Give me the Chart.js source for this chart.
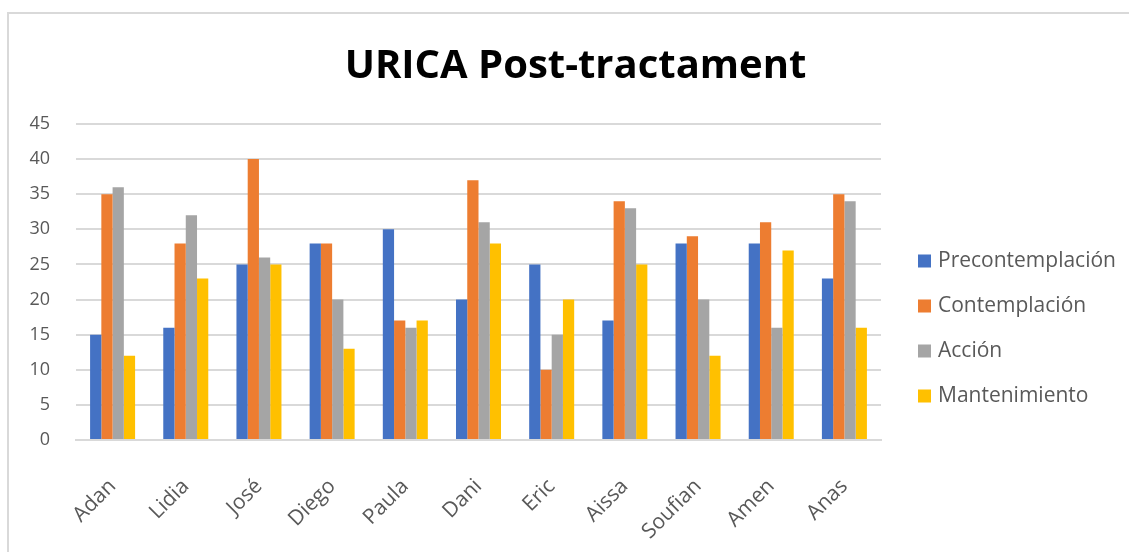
<!DOCTYPE html>
<html>
<head>
<meta charset="utf-8">
<script src="https://cdn.jsdelivr.net/npm/chart.js@4.4.0/dist/chart.umd.min.js"></script>
<style>
    html, body { margin: 0; padding: 0; background: #fff; }
    #wrap { position: relative; width: 1129px; height: 552px; }
    #frame { position: absolute; left: 7px; top: 12px; right: 0; bottom: 0; border-top: 2px solid #d9d9d9; border-left: 2px solid #d9d9d9; }
    #chart { position: absolute; left: 0; top: 0; }
</style>
</head>
<body>
<div id="wrap">
    <div id="frame"></div>
    <canvas id="chart" width="1129" height="552"></canvas>
</div>
<script>
// datos
const categories = ['Adan', 'Lidia', 'José', 'Diego', 'Paula', 'Dani', 'Eric', 'Aissa', 'Soufian', 'Amen', 'Anas'];
const precontemplacion = [15, 16, 25, 28, 30, 20, 25, 17, 28, 28, 23];
const contemplacion = [35, 28, 40, 28, 17, 37, 10, 34, 29, 31, 35];
const accion = [36, 32, 26, 20, 16, 31, 15, 33, 20, 16, 34];
const mantenimiento = [12, 23, 25, 13, 17, 28, 20, 25, 12, 27, 16];
const yTicks = [0, 5, 10, 15, 20, 25, 30, 35, 40, 45];

const FONT = "'Open Sans', 'Noto Sans', sans-serif";
const grey = '#595959';

// leyenda a la derecha, como en Excel
const legendPlugin = {
    id: 'sideLegend',
    afterDraw(chart) {
        const { ctx } = chart;
        const x = chart.width - 211;
        const y0 = 261;
        const step = 45;
        ctx.save();
        ctx.font = '21px ' + FONT;
        ctx.textBaseline = 'middle';
        ctx.textAlign = 'left';
        chart.data.datasets.forEach((ds, i) => {
            const y = y0 + i * step;
            ctx.fillStyle = ds.backgroundColor;
            ctx.fillRect(x, y - 6.5, 13, 13);
            ctx.fillStyle = grey;
            ctx.fillText(ds.label, x + 20, y);
        });
        ctx.restore();
    }
};

const ctx = document.getElementById('chart').getContext('2d');
new Chart(ctx, {
    type: 'bar',
    data: {
        labels: categories,
        datasets: [
            { label: 'Precontemplación', data: precontemplacion, backgroundColor: '#4472c4' },
            { label: 'Contemplación', data: contemplacion, backgroundColor: '#ed7d31' },
            { label: 'Acción', data: accion, backgroundColor: '#a5a5a5' },
            { label: 'Mantenimiento', data: mantenimiento, backgroundColor: '#ffc000' }
        ]
    },
    options: {
        responsive: false,
        animation: false,
        layout: { padding: { left: 22, right: 0, top: 0, bottom: 0 } },
        datasets: { bar: { barPercentage: 1, categoryPercentage: 0.615 } },
        plugins: {
            title: {
                display: true,
                text: 'URICA Post-tractament',
                color: '#000',
                font: { family: FONT, size: 40, weight: 'bold' },
                padding: { top: 43, bottom: 33 }
            },
            legend: { display: false },
            tooltip: { enabled: false }
        },
        scales: {
            x: {
                grid: { display: false },
                border: { color: '#d9d9d9', width: 2 },
                afterFit: axis => { axis.height = 112; },
                ticks: {
                    color: grey,
                    font: { family: FONT, size: 21 },
                    maxRotation: 45,
                    minRotation: 45,
                    padding: 26
                }
            },
            y: {
                min: 0,
                max: 45,
                afterBuildTicks: axis => { axis.ticks = yTicks.map(v => ({ value: v })); },
                afterFit: axis => { axis.width = 54; },
                grid: { color: '#d9d9d9', lineWidth: 2, drawTicks: false },
                border: { display: false },
                ticks: {
                    color: grey,
                    font: { family: FONT, size: 18 },
                    padding: 26
                }
            },
            // hueco reservado para la leyenda
            legendSpace: {
                type: 'linear',
                position: 'right',
                afterFit: axis => { axis.width = 248; },
                ticks: { display: false },
                grid: { display: false },
                border: { display: false }
            }
        }
    },
    plugins: [legendPlugin]
});
</script>
</body>
</html>
